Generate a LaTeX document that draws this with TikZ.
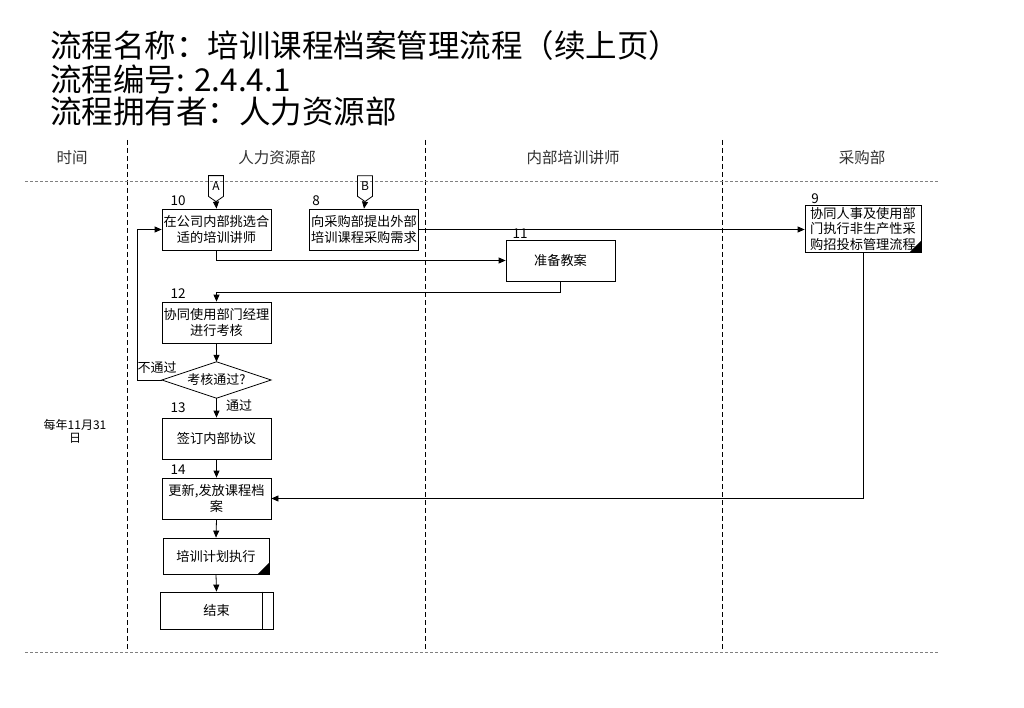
\documentclass[tikz,border=0pt]{standalone}
\usepackage{fontspec}
\setmainfont{Noto Sans CJK SC}
\usetikzlibrary{shapes.symbols,arrows.meta}
\tikzset{
  proc/.style={draw, line width=0.8pt, minimum width=109pt, minimum height=41pt, align=center, inner sep=1pt, font=\fontsize{13.2}{16}\selectfont},
  arr/.style={line width=0.8pt, -{Triangle[length=7pt,width=6pt]}},
  num/.style={font=\fontsize{13.5}{15}\selectfont, inner sep=0pt},
  lane/.style={line width=0.7pt, dash pattern=on 5pt off 3pt},
  hline/.style={line width=1pt, gray, dash pattern=on 3pt off 2pt},
  head/.style={font=\fontsize{15.5}{18}\selectfont, text=black!80},
  title/.style={font=\fontsize{31.5}{34}\selectfont, anchor=west, inner sep=0pt},
  offpage/.style={draw, line width=0.8pt, signal, signal to=south, signal pointer angle=110, minimum width=15pt, minimum height=24pt, inner sep=1pt, font=\fontsize{12}{13}\selectfont},
  lbl/.style={font=\fontsize{13}{15}\selectfont, inner sep=0pt}
}
\begin{document}
\begin{tikzpicture}[x=1pt,y=-1pt]
\useasboundingbox[fill=white] (0,0) rectangle (1024,708);
% titles
\node[title] (t1) at (50,46) {流程名称：培训课程档案管理流程（续上页）};
\node[title] (t2) at (50,79) {流程编号: 2.4.4.1};
\node[title] (t3) at (50,112) {流程拥有者：人力资源部};
% lanes
\draw[lane] (127,140) -- (127,652);
\draw[lane] (425,140) -- (425,652);
\draw[lane] (722,140) -- (722,652);
\draw[hline] (25,182) -- (938,182);
\draw[hline] (25,652) -- (938,652);
\node[head] (h0) at (72,158) {时间};
\node[head] (h1) at (277,158) {人力资源部};
\node[head] (h2) at (573,158) {内部培训讲师};
\node[head] (h3) at (862,158) {采购部};
\node[font=\fontsize{12}{13}\selectfont, align=center] (time) at (75,431) {每年11月31\\日};
% boxes
\node[proc] (b10) at (216.5,229.5) {在公司内部挑选合\\适的培训讲师};
\node[proc] (b8) at (364,229.5) {向采购部提出外部\\培训课程采购需求};
\node[proc] (b11) at (560.5,260.5) {准备教案};
\node[proc, minimum width=116pt, minimum height=47pt, inner sep=0pt, font=\fontsize{13.2}{15.5}\selectfont] (b9) at (863,228.5) {协同人事及使用部\\门执行非生产性采\\购招投标管理流程};
\node[proc] (b12) at (216.5,322.5) {协同使用部门经理\\进行考核};
\node[lbl, minimum width=109pt, minimum height=36pt] (d) at (216.5,380) {考核通过?};
\draw[line width=0.8pt] (d.west) -- (d.north) -- (d.east) -- (d.south) -- cycle;
\node[proc] (b13) at (216.5,438.5) {签订内部协议};
\node[proc] (b14) at (216.5,498.5) {更新,发放课程档\\案};
\node[proc, minimum width=106pt, minimum height=36pt] (b15) at (216,556) {培训计划执行};
\node[proc, minimum width=113pt, minimum height=37pt] (b16) at (216.5,610.5) {结束};
\draw[line width=0.8pt] ([xshift=-11pt]b16.north east) -- ([xshift=-11pt]b16.south east);
\fill ([xshift=-12pt]b9.south east) -- (b9.south east) -- ([yshift=12pt]b9.south east) -- cycle;
\fill ([xshift=-12pt]b15.south east) -- (b15.south east) -- ([yshift=12pt]b15.south east) -- cycle;
% numbers
\node[num] (n10) at (178,201) {10};
\node[num] (n8) at (316,201) {8};
\node[num] (n11) at (520,234) {11};
\node[num] (n9) at (815,199) {9};
\node[num] (n12) at (178,294) {12};
\node[num] (n13) at (178,408) {13};
\node[num] (n14) at (178,470) {14};
% off-page connectors
\node[offpage] (A) at (216,186) {A};
\node[offpage] (B) at (365,186) {B};
% connectors
\draw[arr] (A.south) -- (b10.north);
\draw[arr] (B.south) -- (b8.north);
\draw[arr] (b8.east) -- (b8.east -| b9.west);
\draw[arr] (b10.south) |- (b11.west);
\draw[arr] (b11.south) -- ++(0,11) -| (b12.north);
\draw[arr] (b12.south) -- (d.north);
\draw[arr] (d.west) -- ++(-24,0) |- (b10.west);
\node[lbl] (l1) at (157,368) {不通过};
\draw[arr] (d.south) -- (b13.north);
\node[lbl] (l2) at (239,406) {通过};
\draw[arr] (b13.south) -- (b14.north);
\draw[arr] (b14.south) -- (b15.north);
\draw[arr] (b15.south) -- (b16.north);
\draw[arr] (b9.south) |- (b14.east);
\end{tikzpicture}
\end{document}
